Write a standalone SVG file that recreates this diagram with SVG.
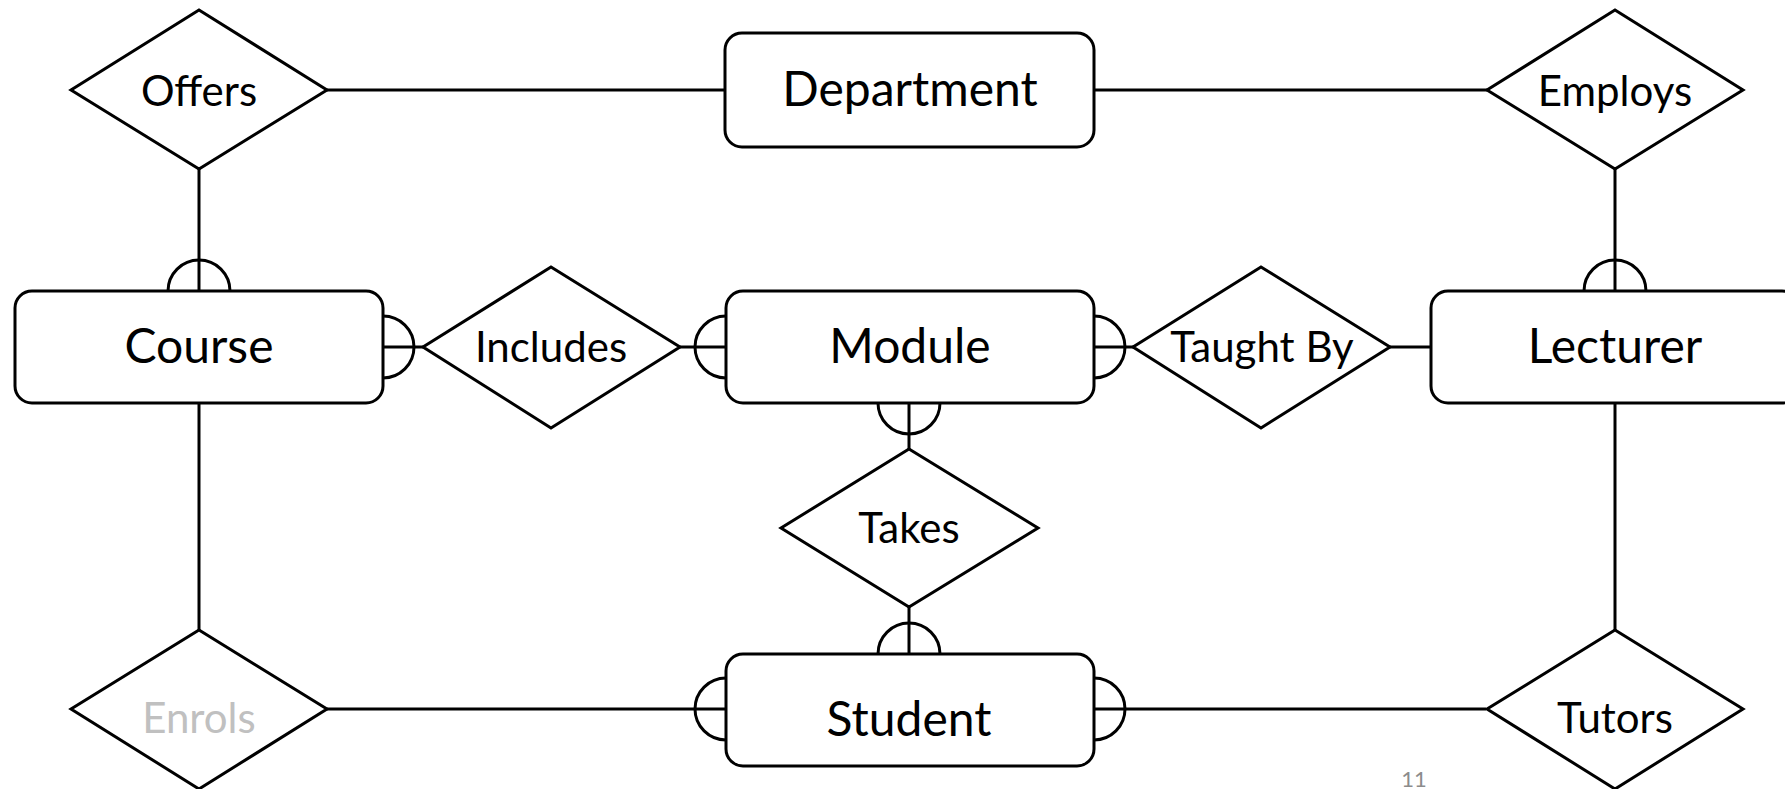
<svg xmlns="http://www.w3.org/2000/svg" width="1785" height="789" viewBox="0 0 1785 789">
  <style>
    .edge { stroke: #000; stroke-width: 3; fill: none; }
    .mark { stroke: #000; stroke-width: 3; fill: none; }
    .entity rect { fill: #fff; stroke: #000; stroke-width: 3; }
    .rel polygon { fill: #fff; stroke: #000; stroke-width: 3; stroke-linejoin: miter; }
    .ent-label { font-family: Lato, "Liberation Sans", sans-serif; font-size: 48px; fill: #000; text-anchor: middle; }
    .rel-label { font-family: Lato, "Liberation Sans", sans-serif; font-size: 42px; fill: #000; text-anchor: middle; }
    .faded { fill: #c0c0c0; }
    .page { font-family: Lato, "Liberation Sans", sans-serif; font-size: 22px; fill: #8c8c8c; text-anchor: middle; }
  </style>
  <rect width="1785" height="789" fill="#fff"/>

  <!-- connectors and cardinality marks -->
  <g id="connectors">
    <!-- Offers - Department - Employs -->
    <line class="edge" x1="327" y1="90" x2="725" y2="90"/>
    <line class="edge" x1="1094" y1="90" x2="1487" y2="90"/>
    <!-- Offers - Course -->
    <line class="edge" x1="199" y1="169" x2="199" y2="291"/>
    <path class="mark" d="M168,291 A31,31 0 0 1 230,291"/>
    <!-- Employs - Lecturer -->
    <line class="edge" x1="1615" y1="169" x2="1615" y2="291"/>
    <path class="mark" d="M1584,291 A31,31 0 0 1 1646,291"/>
    <!-- Course - Includes - Module -->
    <line class="edge" x1="383" y1="347" x2="423" y2="347"/>
    <path class="mark" d="M383,316 A31,31 0 0 1 383,378"/>
    <line class="edge" x1="680" y1="347" x2="726" y2="347"/>
    <path class="mark" d="M726,316 A31,31 0 0 0 726,378"/>
    <!-- Module - Taught By - Lecturer -->
    <line class="edge" x1="1094" y1="347" x2="1133" y2="347"/>
    <path class="mark" d="M1094,316 A31,31 0 0 1 1094,378"/>
    <line class="edge" x1="1390" y1="347" x2="1431" y2="347"/>
    <!-- Module - Takes - Student -->
    <line class="edge" x1="909" y1="403" x2="909" y2="449"/>
    <path class="mark" d="M878,403 A31,31 0 0 0 940,403"/>
    <line class="edge" x1="909" y1="607" x2="909" y2="654"/>
    <path class="mark" d="M878,654 A31,31 0 0 1 940,654"/>
    <!-- Course - Enrols - Student -->
    <line class="edge" x1="199" y1="403" x2="199" y2="630"/>
    <line class="edge" x1="327" y1="709" x2="726" y2="709"/>
    <path class="mark" d="M726,678 A31,31 0 0 0 726,740"/>
    <!-- Lecturer - Tutors - Student -->
    <line class="edge" x1="1615" y1="403" x2="1615" y2="630"/>
    <line class="edge" x1="1094" y1="709" x2="1486" y2="709"/>
    <path class="mark" d="M1094,678 A31,31 0 0 1 1094,740"/>
  </g>

  <!-- entities -->
  <g id="department" class="entity">
    <rect x="725" y="33" width="369" height="114" rx="17"/>
    <text class="ent-label" x="910" y="106">Department</text>
  </g>
  <g id="course" class="entity">
    <rect x="15" y="291" width="368" height="112" rx="17"/>
    <text class="ent-label" x="199" y="363">Course</text>
  </g>
  <g id="module" class="entity">
    <rect x="726" y="291" width="368" height="112" rx="17"/>
    <text class="ent-label" x="910" y="363">Module</text>
  </g>
  <g id="lecturer" class="entity">
    <rect x="1431" y="291" width="368" height="112" rx="17"/>
    <text class="ent-label" x="1615" y="363">Lecturer</text>
  </g>
  <g id="student" class="entity">
    <rect x="726" y="654" width="368" height="112" rx="17"/>
    <text class="ent-label" x="909" y="736">Student</text>
  </g>

  <!-- relationships -->
  <g id="offers" class="rel">
    <polygon points="199,10 327,90 199,169 71,90"/>
    <text class="rel-label" x="199" y="106">Offers</text>
  </g>
  <g id="employs" class="rel">
    <polygon points="1615,10 1743,90 1615,169 1487,90"/>
    <text class="rel-label" x="1615" y="106">Employs</text>
  </g>
  <g id="includes" class="rel">
    <polygon points="551,267 680,347 551,428 423,347"/>
    <text class="rel-label" x="551" y="362">Includes</text>
  </g>
  <g id="taught-by" class="rel">
    <polygon points="1261,267 1390,347 1261,428 1133,347"/>
    <text class="rel-label" x="1262" y="362">Taught By</text>
  </g>
  <g id="takes" class="rel">
    <polygon points="909,449 1038,528 909,607 781,528"/>
    <text class="rel-label" x="909" y="543">Takes</text>
  </g>
  <g id="enrols" class="rel">
    <polygon points="199,630 327,709 199,789 71,709"/>
    <text class="rel-label faded" x="199" y="733">Enrols</text>
  </g>
  <g id="tutors" class="rel">
    <polygon points="1615,630 1743,709 1615,789 1487,709"/>
    <text class="rel-label" x="1615" y="733">Tutors</text>
  </g>

  <text class="page" x="1414" y="787">11</text>
</svg>
